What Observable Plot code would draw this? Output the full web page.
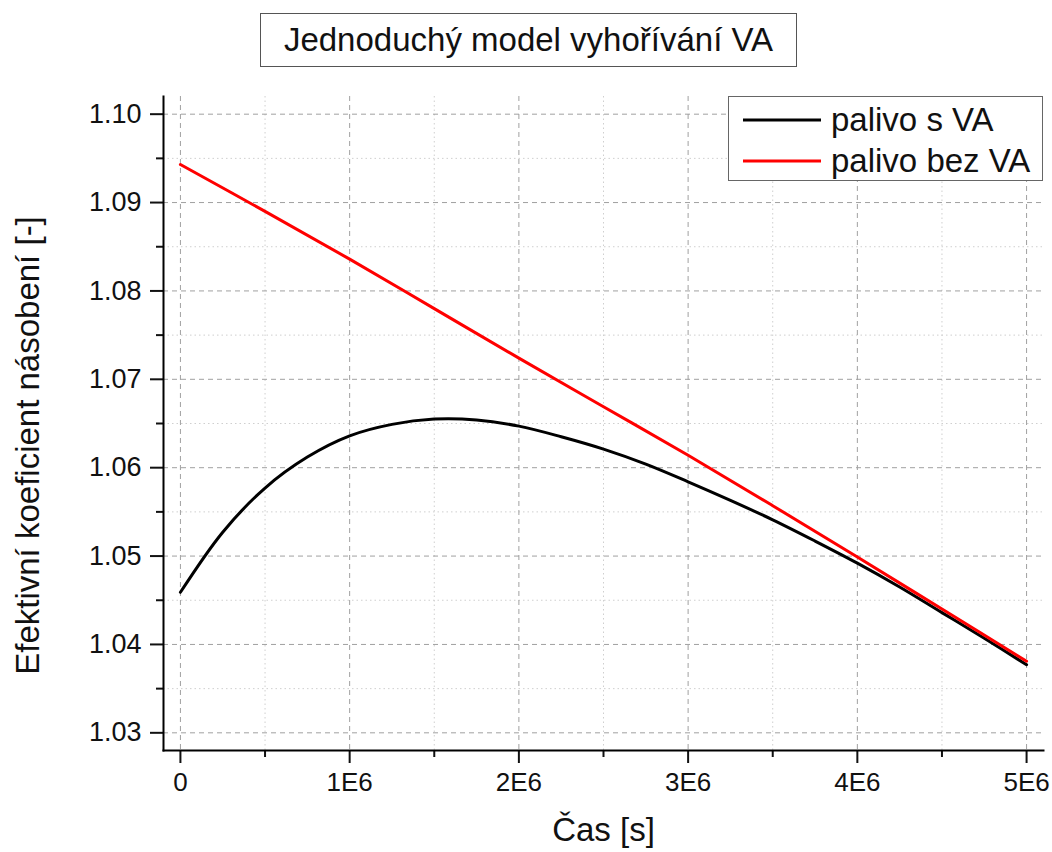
<!DOCTYPE html>
<html>
<head>
<meta charset="utf-8">
<script src="https://cdn.jsdelivr.net/npm/d3@7"></script>
<script src="https://cdn.jsdelivr.net/npm/@observablehq/plot@0.6"></script>
<style>
  html, body { margin: 0; padding: 0; background: #fff; }
  #wrap { position: relative; width: 1052px; height: 852px; font-family: "Liberation Sans", Arial, sans-serif; }
  #title { position: absolute; left: 260px; top: 13px; width: 535px; height: 52px; border: 1px solid #555;
           font-size: 33px; line-height: 52px; text-align: center; color: #111; background: #fff; }
  #legend { position: absolute; left: 728px; top: 96px; width: 313px; height: 83px; border: 1px solid #666; background: #fff; }
  .lrow { position: absolute; left: 14px; height: 40px; display: flex; align-items: center; font-size: 33px; color: #111; }
  .lrow svg { margin-right: 10px; }
</style>
</head>
<body>
<div id="wrap">
  <div id="chart"></div>
  <div id="title"></div>
  <div id="legend"></div>
</div>
<script>
// ---- data ----
const chartTitle = "Jednoduchý model vyhořívání VA";
const xLabel = "Čas [s]";
const yLabel = "Efektivní koeficient násobení [-]";
const seriesNames = ["palivo s VA", "palivo bez VA"];
const seriesColors = ["#000000", "#ff0000"];

const timeWith = [0, 0.25e6, 0.5e6, 0.75e6, 1.0e6, 1.25e6, 1.5e6, 1.75e6, 2.0e6, 2.25e6, 2.5e6,
                  2.75e6, 3.0e6, 3.25e6, 3.5e6, 3.75e6, 4.0e6, 4.25e6, 4.5e6, 4.75e6, 5.0e6];
const keffWith = [1.0459, 1.0527, 1.0577, 1.0612, 1.0636, 1.0649, 1.0655, 1.0654, 1.0647, 1.0635, 1.0621,
                  1.0604, 1.0584, 1.0563, 1.0541, 1.0517, 1.0492, 1.0465, 1.0436, 1.0407, 1.0377];

const timeWithout = [0, 0.5e6, 1.0e6, 1.5e6, 2.0e6, 2.5e6, 3.0e6, 3.5e6, 4.0e6, 4.5e6, 5.0e6];
const keffWithout = [1.0943, 1.0890, 1.0836, 1.0780, 1.0724, 1.0669, 1.0614, 1.0557, 1.0499, 1.0440, 1.0381];

const xTicks = [0, 1e6, 2e6, 3e6, 4e6, 5e6];
const xTickLabels = ["0", "1E6", "2E6", "3E6", "4E6", "5E6"];
const xMinor = [0.5e6, 1.5e6, 2.5e6, 3.5e6, 4.5e6];
const yTicks = [1.03, 1.04, 1.05, 1.06, 1.07, 1.08, 1.09, 1.10];
const yTickLabels = ["1.03", "1.04", "1.05", "1.06", "1.07", "1.08", "1.09", "1.10"];
const yMinor = [1.035, 1.045, 1.055, 1.065, 1.075, 1.085, 1.095];

// ---- build ----
const rows = [
  ...timeWith.map((t, i) => ({t, k: keffWith[i], s: seriesNames[0]})),
  ...timeWithout.map((t, i) => ({t, k: keffWithout[i], s: seriesNames[1]}))
];

const plot = Plot.plot({
  width: 1052,
  height: 852,
  marginLeft: 163,
  marginRight: 9,
  marginTop: 96,
  marginBottom: 102,
  style: {fontFamily: "'Liberation Sans', Arial, sans-serif", background: "#fff", color: "#111"},
  x: {domain: [-0.1e6, 5.1e6]},
  y: {domain: [1.028, 1.102]},
  color: {domain: seriesNames, range: seriesColors},
  marks: [
    Plot.gridX(xMinor, {stroke: "#cfcfcf", strokeOpacity: 1, strokeDasharray: "1.5,3"}),
    Plot.gridY(yMinor, {stroke: "#cfcfcf", strokeOpacity: 1, strokeDasharray: "1.5,3"}),
    Plot.gridX(xTicks, {stroke: "#a0a0a0", strokeOpacity: 1, strokeDasharray: "5,4"}),
    Plot.gridY(yTicks, {stroke: "#a0a0a0", strokeOpacity: 1, strokeDasharray: "5,4"}),
    Plot.line(rows, {x: "t", y: "k", z: "s", stroke: "s", strokeWidth: 3, curve: "catmull-rom"}),
    Plot.axisY(yTicks, {tickSize: 13, tickPadding: 9, strokeWidth: 2, fontSize: 27,
      tickFormat: (d) => yTickLabels[yTicks.indexOf(d)], label: null}),
    Plot.axisY(yMinor, {tickSize: 7, strokeWidth: 2, tickFormat: () => "", label: null}),
    Plot.axisX(xTicks, {tickSize: 13, tickPadding: 9, strokeWidth: 2, fontSize: 26,
      tickFormat: (d) => xTickLabels[xTicks.indexOf(d)], label: null}),
    Plot.axisX(xMinor, {tickSize: 7, strokeWidth: 2, tickFormat: () => "", label: null}),
    Plot.frame({anchor: "left", stroke: "#000", strokeWidth: 2}),
    Plot.frame({anchor: "bottom", stroke: "#000", strokeWidth: 2}),
    Plot.text([yLabel], {frameAnchor: "left", textAnchor: "middle", dx: -135, dy: 22, rotate: -90, fontSize: 33, fill: "#111"}),
    Plot.text([xLabel], {frameAnchor: "bottom", textAnchor: "middle", dy: 90, fontSize: 33, fill: "#111"})
  ]
});
document.getElementById("chart").appendChild(plot);

document.getElementById("title").textContent = chartTitle;
const legend = document.getElementById("legend");
seriesNames.forEach((name, i) => {
  const row = document.createElement("div");
  row.className = "lrow";
  row.style.top = (3 + i * 41) + "px";
  row.innerHTML = `<svg width="78" height="6"><line x1="0" y1="3" x2="78" y2="3" stroke="${seriesColors[i]}" stroke-width="3"/></svg>`;
  const span = document.createElement("span");
  span.textContent = name;
  row.appendChild(span);
  legend.appendChild(row);
});
</script>
</body>
</html>
